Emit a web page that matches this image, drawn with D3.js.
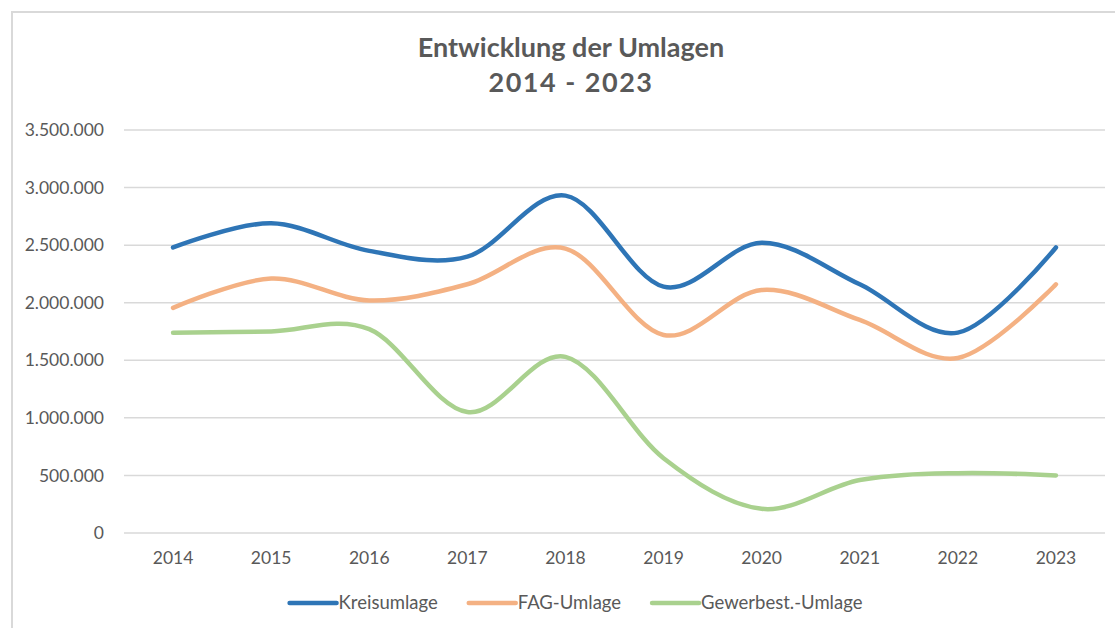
<!DOCTYPE html>
<html>
<head>
<meta charset="utf-8">
<script src="https://cdn.jsdelivr.net/npm/d3@7"></script>
<style>
    html, body { margin: 0; padding: 0; background: #fff; }
    svg { display: block; font-family: Lato, "Open Sans", sans-serif; }
</style>
</head>
<body>
<div id="chart"></div>
<script>
// years on the x axis
const years = ["2014", "2015", "2016", "2017", "2018", "2019", "2020", "2021", "2022", "2023"];

// series values
const kreisumlage = [2480000, 2690000, 2450000, 2400000, 2930000, 2140000, 2520000, 2160000, 1740000, 2480000];
const fagUmlage = [1955000, 2210000, 2020000, 2160000, 2470000, 1720000, 2110000, 1850000, 1520000, 2160000];
const gewerbestUmlage = [1740000, 1750000, 1770000, 1050000, 1530000, 650000, 210000, 460000, 520000, 500000];

const seriesNames = ["Kreisumlage", "FAG-Umlage", "Gewerbest.-Umlage"];
const seriesColors = ["#2E75B6", "#F4B183", "#A9D18E"];

const yTicks = [0, 500000, 1000000, 1500000, 2000000, 2500000, 3000000, 3500000];

const W = 1115, H = 628;
const margin = { left: 124, right: 10, top: 130, bottom: 95 };

const de = d3.formatLocale({ decimal: ",", thousands: ".", grouping: [3], currency: ["", " €"] });
const fmt = de.format(",d");

const svg = d3.select("#chart").append("svg")
    .attr("width", W)
    .attr("height", H);

// chart frame (only top and left visible)
svg.append("path")
    .attr("d", `M12,${H} L12,12 L${W},12`)
    .attr("fill", "none")
    .attr("stroke", "#D9D9D9")
    .attr("stroke-width", 2);

const x = d3.scaleBand()
    .domain(years)
    .range([margin.left, W - margin.right])
    .padding(0);

const y = d3.scaleLinear()
    .domain([0, 3500000])
    .range([H - margin.bottom, margin.top]);

// gridlines
svg.append("g")
    .selectAll("line")
    .data(yTicks)
    .join("line")
    .attr("x1", margin.left)
    .attr("x2", W - margin.right)
    .attr("y1", d => y(d))
    .attr("y2", d => y(d))
    .attr("stroke", "#D9D9D9")
    .attr("stroke-width", 1.5);

// y axis labels
const yAxis = svg.append("g")
    .attr("transform", `translate(${margin.left - 20},0)`)
    .call(d3.axisLeft(y).tickValues(yTicks).tickFormat(fmt).tickSize(0).tickPadding(0));
yAxis.select(".domain").remove();
yAxis.selectAll("text")
    .attr("fill", "#595959")
    .style("font-size", "17.5px")
    .style("font-family", "Lato, 'Open Sans', sans-serif");

// x axis labels
const xAxis = svg.append("g")
    .attr("transform", `translate(0,${y(0) + 19})`)
    .call(d3.axisBottom(x).tickSize(0).tickPadding(0));
xAxis.select(".domain").remove();
xAxis.selectAll("text")
    .attr("fill", "#595959")
    .style("font-size", "17.5px")
    .style("font-family", "Lato, 'Open Sans', sans-serif");

// title
const title = svg.append("text")
    .attr("x", 571)
    .attr("text-anchor", "middle")
    .attr("fill", "#595959")
    .style("font-size", "27px")
    .style("font-weight", "bold");
title.append("tspan").attr("x", 571).attr("y", 57).text("Entwicklung der Umlagen");
title.append("tspan").attr("x", 571).attr("y", 92)
    .style("letter-spacing", "1.5px")
    .text("2014 - 2023");

// lines
const allSeries = [kreisumlage, fagUmlage, gewerbestUmlage];
const line = d3.line()
    .x((d, i) => x(years[i]) + x.bandwidth() / 2)
    .y(d => y(d))
    .curve(d3.curveCatmullRom.alpha(0));

// draw green first so blue stays on top
[2, 1, 0].forEach(k => {
    svg.append("path")
        .datum(allSeries[k])
        .attr("d", line)
        .attr("fill", "none")
        .attr("stroke", seriesColors[k])
        .attr("stroke-width", 4.5)
        .attr("stroke-linecap", "round")
        .attr("stroke-linejoin", "round");
});

// legend
const legend = svg.append("g");
const swatch = 47, gapText = 2, gapItem = 31, legendY = 603;
const items = legend.selectAll("g")
    .data(seriesNames)
    .join("g");
items.append("line")
    .attr("x1", 0).attr("x2", swatch)
    .attr("y1", 0).attr("y2", 0)
    .attr("stroke", (d, i) => seriesColors[i])
    .attr("stroke-width", 4.5)
    .attr("stroke-linecap", "round");
items.append("text")
    .attr("x", swatch + gapText)
    .attr("dy", "0.35em")
    .attr("fill", "#595959")
    .style("font-size", "18.5px")
    .text(d => d);

let widths = [];
items.each(function () {
    widths.push(swatch + gapText + this.querySelector("text").getComputedTextLength());
});
const total = d3.sum(widths) + gapItem * (widths.length - 1);
let cx = 576 - total / 2;
items.attr("transform", (d, i) => {
    const t = `translate(${cx},${legendY})`;
    cx += widths[i] + gapItem;
    return t;
});
</script>
</body>
</html>
